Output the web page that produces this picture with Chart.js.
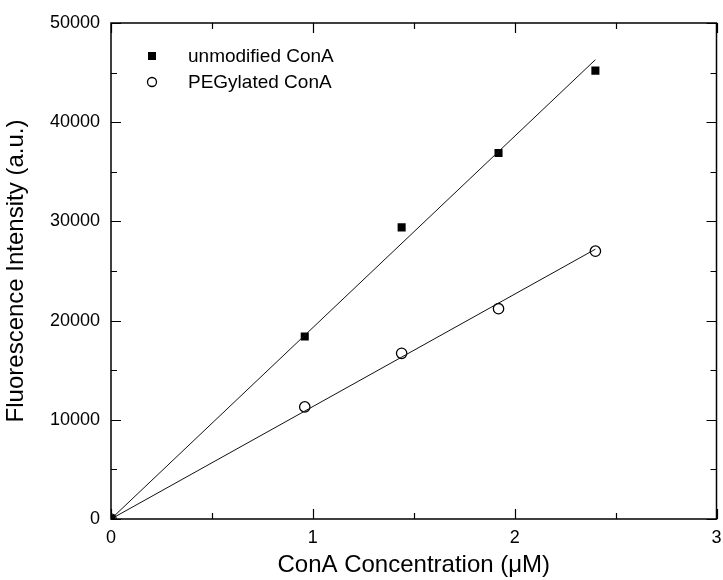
<!DOCTYPE html>
<html>
<head>
<meta charset="utf-8">
<script src="https://cdn.jsdelivr.net/npm/chart.js@4"></script>
<style>
  html, body { margin: 0; padding: 0; background: #fff; }
  #wrap { width: 723px; height: 580px; }
</style>
</head>
<body>
<div id="wrap"><canvas id="chart" width="723" height="580"></canvas></div>
<script>
// =================== DATA ===================
const concentration = [0, 0.96, 1.44, 1.92, 2.4];
const unmodified = [0, 18400, 29400, 36900, 45200];
const pegylated = [0, 11300, 16700, 21200, 27000];

// linear fits through the origin
const fitX = [0, 2.4];
const unmodifiedFit = [0, 46300];
const pegylatedFit = [0, 27200];

const xTicks = [0, 1, 2, 3];
const yTicks = [0, 10000, 20000, 30000, 40000, 50000];
const xMinor = [0.5, 1.5, 2.5];
const yMinor = [5000, 15000, 25000, 35000, 45000];

const FONT = "'Liberation Sans', Arial, sans-serif";

function toPoints(xs, ys) {
	return xs.map((x, i) => ({ x, y: ys[i] }));
}

// =================== PLUGINS ===================
// inward ticks on all four sides plus the top/right frame
const frameTicks = {
	id: "frameTicks",
	afterDraw(chart) {
		const { ctx, chartArea: a, scales } = chart;
		ctx.save();
		ctx.strokeStyle = "#000";
		ctx.lineWidth = 1.5;
		ctx.strokeRect(a.left, a.top, a.right - a.left, a.bottom - a.top);

		const tick = (len, xs, ys) => {
			xs.forEach((v) => {
				const px = Math.round(scales.x.getPixelForValue(v)) + 0.5;
				ctx.beginPath();
				ctx.moveTo(px, a.bottom);
				ctx.lineTo(px, a.bottom - len);
				ctx.moveTo(px, a.top);
				ctx.lineTo(px, a.top + len);
				ctx.stroke();
			});
			ys.forEach((v) => {
				const py = Math.round(scales.y.getPixelForValue(v)) + 0.5;
				ctx.beginPath();
				ctx.moveTo(a.left, py);
				ctx.lineTo(a.left + len, py);
				ctx.moveTo(a.right, py);
				ctx.lineTo(a.right - len, py);
				ctx.stroke();
			});
		};
		ctx.lineWidth = 1.2;
		tick(10, xTicks, yTicks);
		tick(6, xMinor, yMinor);
		ctx.restore();
	},
};

// legend in the upper-left corner of the plot
const innerLegend = {
	id: "innerLegend",
	afterDraw(chart) {
		const { ctx, chartArea: a } = chart;
		const mx = a.left + 41;
		const tx = a.left + 77;
		const rows = [
			{ label: "unmodified ConA", y: a.top + 33, square: true },
			{ label: "PEGylated ConA", y: a.top + 59, square: false },
		];
		ctx.save();
		ctx.font = `19px ${FONT}`;
		ctx.textBaseline = "middle";
		ctx.fillStyle = "#000";
		ctx.strokeStyle = "#000";
		ctx.lineWidth = 1.3;
		rows.forEach((r) => {
			if (r.square) {
				ctx.fillRect(mx - 4, r.y - 4, 8, 8);
			} else {
				ctx.beginPath();
				ctx.arc(mx, r.y, 4.5, 0, Math.PI * 2);
				ctx.stroke();
			}
			ctx.fillText(r.label, tx, r.y + 1);
		});
		ctx.restore();
	},
};

// =================== CHART ===================
new Chart(document.getElementById("chart"), {
	type: "scatter",
	data: {
		datasets: [
			{
				label: "unmodified fit",
				data: toPoints(fitX, unmodifiedFit),
				showLine: true,
				borderColor: "#111",
				borderWidth: 1,
				pointRadius: 0,
			},
			{
				label: "PEGylated fit",
				data: toPoints(fitX, pegylatedFit),
				showLine: true,
				borderColor: "#111",
				borderWidth: 1,
				pointRadius: 0,
			},
			{
				label: "unmodified ConA",
				data: toPoints(concentration, unmodified),
				pointStyle: "rect",
				pointRadius: 5.7,
				backgroundColor: "#000",
				borderColor: "#000",
				borderWidth: 0,
			},
			{
				label: "PEGylated ConA",
				data: toPoints(concentration, pegylated),
				pointStyle: "circle",
				pointRadius: 5.2,
				backgroundColor: "rgba(0,0,0,0)",
				borderColor: "#000",
				borderWidth: 1.3,
			},
		],
	},
	plugins: [frameTicks, innerLegend],
	options: {
		responsive: false,
		animation: false,
		layout: { padding: { left: 2, right: 6, top: 23, bottom: 0 } },
		plugins: {
			legend: { display: false },
			tooltip: { enabled: false },
		},
		scales: {
			x: {
				type: "linear",
				min: 0,
				max: 3,
				afterBuildTicks: (s) => {
					s.ticks = xTicks.map((v) => ({ value: v }));
				},
				afterFit: (s) => {
					s.height = 61;
					s.paddingLeft = 0;
					s.paddingRight = 0;
				},
				grid: { display: false, drawTicks: false },
				border: { display: false },
				ticks: {
					color: "#000",
					padding: 8,
					font: { family: FONT, size: 18 },
					callback: (v) => String(v),
				},
				title: {
					display: true,
					text: "ConA Concentration (μM)",
					color: "#000",
					font: { family: FONT, size: 24 },
					padding: { top: 0, bottom: 0 },
				},
			},
			y: {
				type: "linear",
				min: 0,
				max: 50000,
				afterBuildTicks: (s) => {
					s.ticks = yTicks.map((v) => ({ value: v }));
				},
				afterFit: (s) => {
					s.width = 109;
					s.paddingTop = 0;
					s.paddingBottom = 0;
				},
				grid: { display: false, drawTicks: false },
				border: { display: false },
				ticks: {
					color: "#000",
					padding: 11,
					font: { family: FONT, size: 18 },
					callback: (v) => String(v),
				},
				title: {
					display: true,
					text: "Fluorescence Intensity (a.u.)",
					color: "#000",
					font: { family: FONT, size: 24 },
					padding: { top: 0, bottom: 4 },
				},
			},
		},
	},
});
</script>
</body>
</html>
